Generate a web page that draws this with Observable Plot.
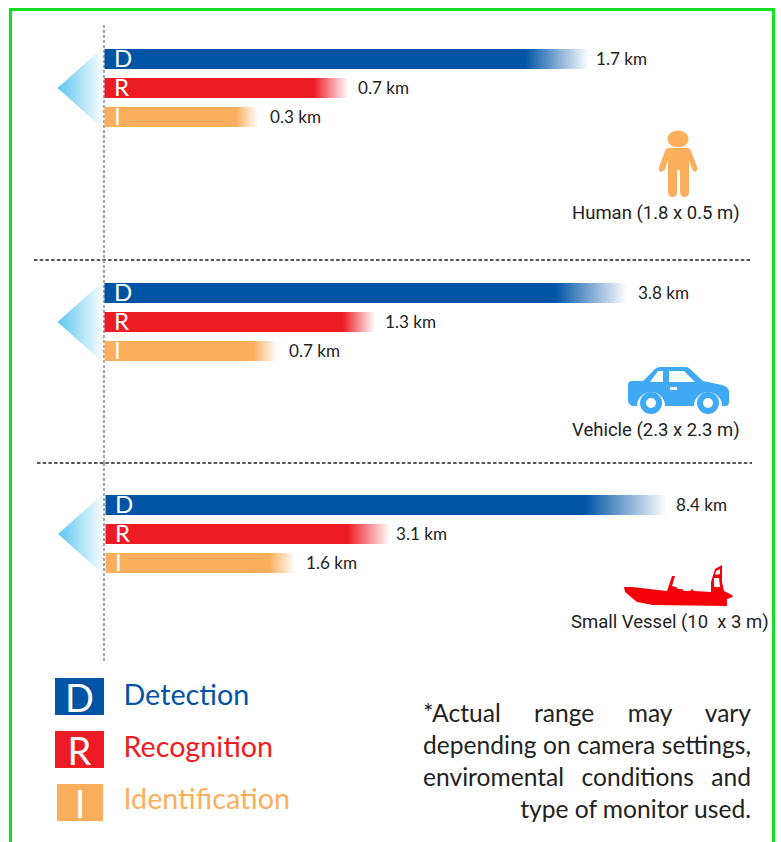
<!DOCTYPE html>
<html><head><meta charset="utf-8">
<script src="https://cdn.jsdelivr.net/npm/d3@7"></script>
<script src="https://cdn.jsdelivr.net/npm/@observablehq/plot@0.6"></script>
<style>
html,body{margin:0;padding:0;background:#fff;width:781px;height:842px;overflow:hidden;position:relative}
#frame{position:absolute;left:9px;top:8px;width:760px;height:900px;border:3px solid #10e020;box-sizing:content-box}
#chart{position:absolute;left:0;top:0;width:781px}
#chart svg{display:block;overflow:visible;background:transparent}
#chart text{white-space:pre}
.key{position:absolute;color:#fff;display:flex;align-items:center;justify-content:center;font:400 38px Lato,sans-serif}
.name{position:absolute;left:123.500px;font:28.700px/36px Lato,sans-serif}
#note{position:absolute;left:423px;top:697px;width:328px;font:24.600px/32px Lato,sans-serif;color:#222}
#note div{text-align:justify;text-align-last:justify;white-space:nowrap}
#note div:last-child{text-align-last:right}
</style></head><body>
<div id="frame"></div>
<div id="chart"></div>
<div id="legend"></div>
<div id="note"></div>
<script>
const levels = ["D", "R", "I"];
const levelNames = ["Detection", "Recognition", "Identification"];
const colors = ["#0054a6", "#ed1c24", "#fbae5c"];
const humanKm = [1.7, 0.7, 0.3];
const vehicleKm = [3.8, 1.3, 0.7];
const vesselKm = [8.4, 3.1, 1.6];
const captions = ["Human (1.8 x 0.5 m)", "Vehicle (2.3 x 2.3 m)", "Small Vessel (10  x 3 m)"];
const noteLines = ["*Actual range may vary", "depending on camera settings,", "enviromental conditions and", "type of monitor used."];

const icons = [
  {fill:"#fbae5c", paths:[
    "M678 130.500C684 130.500 688.500 134.300 688.500 139C688.500 143.700 684 147.300 678 147.300C672 147.300 667.500 143.700 667.500 139C667.500 134.300 672 130.500 678 130.500Z",
    "M668 148Q666 148 665 151L659 167Q658 171 661 172Q663 172 665 169L668 160V192Q668 197 672.500 197Q677 197 677 192V170H680V192Q680 197 684.500 197Q689 197 689 192V160L692 169Q693 172 695 172Q698 171 697 167L691 151Q690 148 688 148Z"]},
  {fill:"#3fa9f5", paths:[
    "M628 385Q628 381 632 381L643 381L655 369Q657 367 660 367L686 367Q688 367 690 369L703 381L722 385Q729 387 729 392L729 402Q729 406 725 406L722 406A14 14 0 0 0 694 406L665 406A14 14 0 0 0 637 406L632 406Q628 404 628 400Z"],
    white:["M650 382L663 382L663 371L658 371Z","M669 371L684 371L695 382L669 382Z","M670 387H677V390H670Z"],
    wheels:[[651,403],[708,403]]},
  {fill:"#f50008", paths:[
    "M624 587L632 587L667 591L672 576L675 576L672 586L676 587L678 589L682 589L684 591L690 591L692 589L694 591L711 592L711 582L715 569L722 565L722 582L724 591L732 595L733 597L727 599L727 606L653 605L637 602L625 592Z"],
    white:["M716 571L720 569L720 574L715 575Z","M714 578L719 578L720 587L714 587Z"]}
];

function panel(i, km, cfg) {
  const rows = levels.map((k, j) => ({level:k, km:km[j], color:colors[j], fade:cfg.fades[j], gap:cfg.gaps[j], id:`fade${i}${k}`}));
  const labelOf = d => `${d.km} km`;
  return Plot.plot({
    width: 781, height: cfg.h, marginTop: cfg.mt, marginBottom: cfg.mb, marginLeft: 0, marginRight: 0,
    x: {type:"linear", domain:[0, ...km.slice().reverse()], range:cfg.xr, axis:null},
    y: {type:"band", domain:levels, range:cfg.yr, paddingInner:0.31, paddingOuter:0, axis:null},
    style: {background:"transparent", overflow:"visible"},
    marks: [
      (_, s) => {
        const g = d3.create("svg:g");
        const defs = g.append("defs");
        const cone = defs.append("linearGradient").attr("id", `cone${i}`);
        cone.append("stop").attr("offset", 0).attr("stop-color", "#5cc6f0");
        cone.append("stop").attr("offset", 1).attr("stop-color", "#5cc6f0").attr("stop-opacity", 0.02);
        for (const r of rows) {
          const len = s.x(r.km) - s.x(0);
          const gr = defs.append("linearGradient").attr("id", r.id);
          gr.append("stop").attr("offset", 1 - r.fade / len).attr("stop-color", r.color);
          gr.append("stop").attr("offset", 1).attr("stop-color", r.color).attr("stop-opacity", 0);
        }
        const bw = typeof s.y.bandwidth === "function" ? s.y.bandwidth() : s.y.bandwidth;
        const cy = s.y("R") + bw / 2;
        g.append("path").attr("transform", `translate(${cfg.coneX},${cy})`)
          .attr("d", "M-46 0L0 -41L0 41Z").attr("fill", `url(#cone${i})`);
        return g.node();
      },
      Plot.ruleX([0], {stroke:"#9a9a9a", strokeWidth:1.7, strokeDasharray:"3,2", dx:cfg.ruleDx}),
      Plot.barX(rows, {x1:0, x2:"km", y:"level", fill:d => `url(#${d.id})`, insetTop:0, insetBottom:0}),
      Plot.text(rows, {x:0, y:"level", text:"level", textAnchor:"start", dx:9, fill:"#fff", fontSize:24, fontWeight:400, fontFamily:"Lato"}),
      ...rows.map(r => Plot.text([r], {x:"km", y:"level", text:labelOf, textAnchor:"start", dx:r.gap, fill:"#222", fontSize:17.1, fontFamily:"Lato"})),
      Plot.text([captions[i]], {frameAnchor:"top-left", lineAnchor:"middle", textAnchor:"start", dx:cfg.capX, dy:cfg.capY, fill:"#222", fontSize:18.5, fontFamily:"Roboto"}),
      () => {
        const g = d3.create("svg:g").attr("transform", `translate(0,${-cfg.top})`);
        const ic = icons[i];
        for (const d of ic.paths) g.append("path").attr("d", d).attr("fill", ic.fill);
        for (const d of ic.white || []) g.append("path").attr("d", d).attr("fill", "#fff");
        for (const [cx, cy] of ic.wheels || []) {
          g.append("circle").attr("cx", cx).attr("cy", cy).attr("r", 8).attr("fill", "#fff").attr("stroke", ic.fill).attr("stroke-width", 6);
        }
        if (cfg.sep) g.append("line").attr("x1", cfg.sep[0]).attr("x2", cfg.sep[1]).attr("y1", cfg.sep[2]).attr("y2", cfg.sep[2])
          .attr("stroke", "#222").attr("stroke-width", 1.3).attr("stroke-dasharray", "3.5,2.2");
        return g.node();
      }
    ]
  });
}

const chart = document.getElementById("chart");
chart.append(
  panel(0, humanKm,   {top:0,   h:260, mt:25, mb:0, xr:[104.5,258,348,589], yr:[49,128], ruleDx:-1,  coneX:103.5, capX:571.5, capY:188, fades:[64,34,22], gaps:[6.5,9.5,11.5], sep:[34,751,260]}),
  panel(1, vehicleKm, {top:260, h:203, mt:0,  mb:0, xr:[104.5,277,375,627], yr:[23,102], ruleDx:-1,  coneX:103.5, capX:571.5, capY:170, fades:[72,32,24], gaps:[10.5,9.5,11.5], sep:[37,752,463]}),
  panel(2, vesselKm,  {top:463, h:200, mt:0,  mb:0, xr:[105.5,295,390,667], yr:[32,111], ruleDx:-2,  coneX:104,   capX:570.5, capY:159, fades:[82,42,26], gaps:[8.5,5.5,10.5]})
);

const legend = document.getElementById("legend");
const keyBoxes = [[55,678,49,37],[55,731,49,37],[57,784,46,37]];
const nameTops = [676, 728, 780];
levels.forEach((k, j) => {
  const [l, t, w, h] = keyBoxes[j];
  const b = document.createElement("div");
  b.className = "key"; b.textContent = k;
  b.style.cssText = `left:${l}px;top:${t}px;width:${w}px;height:${h}px;background:${colors[j]}`;
  const n = document.createElement("div");
  n.className = "name"; n.textContent = levelNames[j];
  n.style.cssText = `top:${nameTops[j]}px;color:${colors[j]}`;
  legend.append(b, n);
});
document.getElementById("note").append(...noteLines.map(t => {
  const d = document.createElement("div"); d.textContent = t; return d;
}));
</script>
</body></html>
